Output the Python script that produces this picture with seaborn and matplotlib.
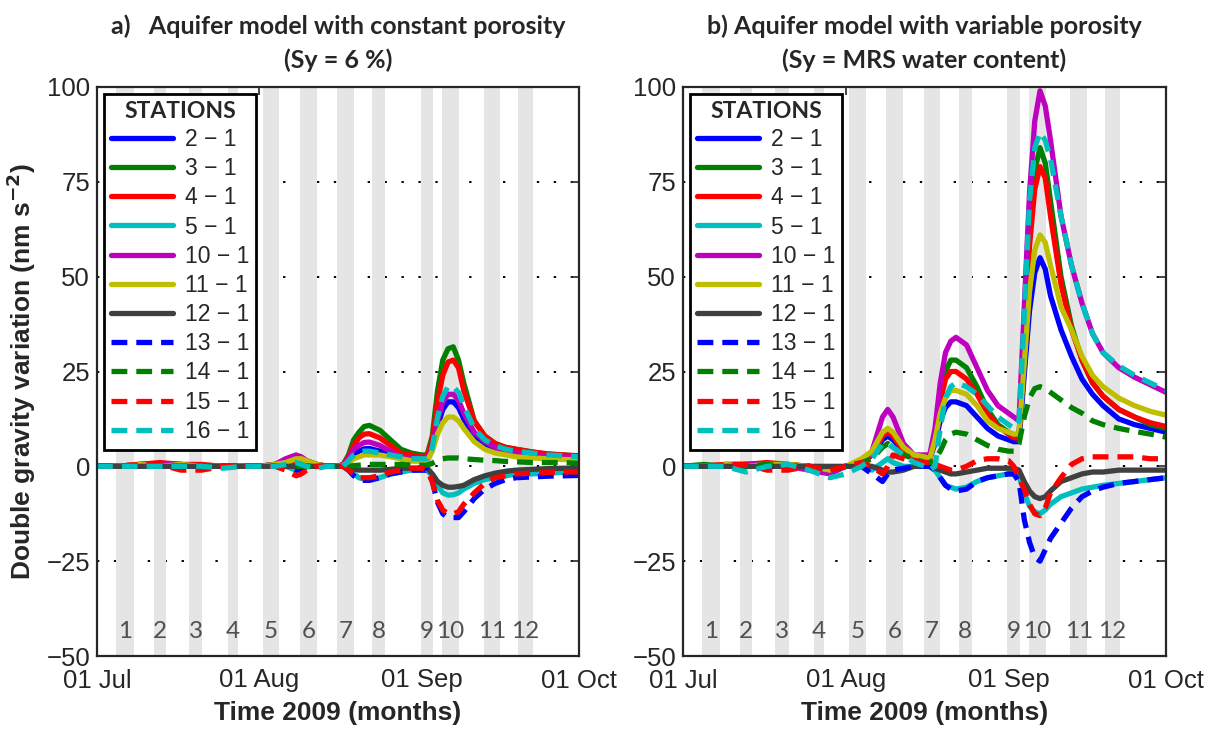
import numpy as np
import pandas as pd
import matplotlib
matplotlib.use("Agg")
import matplotlib.pyplot as plt
import seaborn as sns
from matplotlib.lines import Line2D

# ---------------- data ----------------
days = [0, 4, 8, 12, 16, 20, 24, 28, 31, 34, 36, 38, 39, 40, 42, 44, 46, 47, 48, 49,
        50, 51, 52, 54, 56, 58, 60, 62, 63, 64, 65, 66, 67, 68, 69, 70, 72, 74, 76, 78,
        80, 83, 86, 89, 92]

stations = ["2 − 1", "3 − 1", "4 − 1", "5 − 1", "10 − 1", "11 − 1", "12 − 1",
            "13 − 1", "14 − 1", "15 − 1", "16 − 1"]

# panel a) constant porosity
a_s2 = [0, 0, 0, 0.5, 0.5, 0, 0, 0, 0, 0.5, 1, 1.5, 1, 0.5, 0, 0, 0, 0.3, 1.5, 3,
        4, 4.6, 4.7, 4, 3, 2, 1.5, 1.5, 1.5, 4.5, 10.5, 15, 17, 17, 15.5, 12.5, 8, 5.5, 4.5, 3.5,
        3, 2.7, 2.5, 2.3, 2]
a_s3 = [0, 0, 0.5, 0.5, 0.5, 0, 0, 0, 0, 0.5, 1, 2, 2, 1.5, 0.5, 0, 0, 0.5, 3, 7,
        9, 10.5, 10.8, 9.5, 7, 4.5, 3.5, 3, 3, 8, 20, 28, 31, 31.5, 28, 22, 12, 8, 6, 5,
        4.5, 3.8, 3.2, 3, 2.6]
a_s4 = [0, 0, 0.5, 1, 0.5, 0.5, 0, 0, 0, 0.5, 1, 1.5, 1.5, 1, 0.5, 0, 0, 0.5, 2.5, 5.5,
        7.5, 8.5, 8.6, 7.5, 5.5, 3.5, 3, 2.5, 2.5, 7, 17, 24, 27.5, 28, 26, 20, 12, 8, 6, 5,
        4.5, 3.8, 3.3, 3, 2.8]
a_s5 = [0, 0, 0, 0, 0, 0, 0, 0, 0, 0, 0, -1, -1, 0, 0, 0, 0, 0, -1, -2,
        -3, -3.4, -3.4, -3, -2, -1.5, -1, -1, -1, -2.5, -5, -7, -7.6, -7.5, -7, -6, -4.5, -3.5, -3, -2.5,
        -2, -2, -1.8, -1.6, -1.5]
a_s10 = [0, 0, 0.5, 0.5, 0.5, 0, 0, 0, 0, 0.5, 2, 3, 2.5, 1.5, 0.5, 0, 0, 0.5, 2, 4.5,
         5.5, 6.3, 6.4, 5.5, 4, 2.5, 2, 2, 2, 5, 12, 17, 19, 19, 17.5, 14, 9, 6.5, 5, 4,
         3.5, 3, 2.8, 2.5, 2.3]
a_s11 = [0, 0, 0.5, 0, 0.5, 0, 0, 0, 0, 0.5, 1, 2, 2, 1.5, 0.5, 0, 0, 0.3, 1, 2,
         2.5, 3, 3, 3, 2.5, 2, 1.5, 1.5, 1.5, 4, 8.5, 11.5, 13, 13, 12, 10, 6.5, 4.5, 3.5, 3,
         2.5, 2.2, 2, 1.8, 1.7]
a_s12 = [0, 0, 0, 0, 0, 0, 0, 0, 0, 0, 0, 0, 0, 0, 0, 0, 0, 0, -0.5, -0.8,
         -1, -1, -1, -1, -0.8, -0.5, -0.5, -0.5, -0.5, -2, -4, -5, -5.5, -5.5, -5.3, -5, -3.5, -2.5, -1.8, -1.3,
         -1, -0.8, -0.6, -0.5, -0.5]
a_s13 = [0, 0, 0, 0, 0, 0, 0, 0, 0, 0, 0, -1, -1, 0, 0, 0, 0, 0, -1, -2.5,
         -3.5, -3.7, -3.7, -3, -2, -1.5, -1, -1, -1, -4, -9.5, -12.5, -13.5, -13.5, -13.5, -12, -8.5, -6, -4.5, -3.5,
         -3, -2.8, -2.6, -2.5, -2.4]
a_s14 = [0, 0, 0, 0, 0, 0, 0, 0, 0, 0, 0, 0, 0, 0, 0, 0, 0, 0, 0, 0.2,
         0.3, 0.4, 0.5, 0.5, 0.5, 0.5, 0.3, 0.3, 0.3, 0.8, 1.5, 2, 2.2, 2.2, 2.2, 2, 1.8, 1.6, 1.5, 1.3,
         1.2, 1, 1, 1, 0.8]
a_s15 = [0, 0, 0.5, 0.5, -1, -1, 0, 0, 0, 0, -1, -2.5, -2, -1, 0, 0, 0, 0, -1, -2,
         -3, -3, -3, -2.5, -1.5, -1, -0.5, -0.5, -1, -4, -9, -11.5, -12.5, -12.5, -12, -10, -7, -4.5, -3, -2.5,
         -2, -1.8, -1.6, -1.5, -1.5]
a_s16 = [0, 0, 0, 0, 0, 0, -0.5, 0, 0, 0, 0.5, 1, 0.5, 0, -0.5, 0, 0, 0, 1.5, 3,
         3.8, 4, 4, 3.5, 3, 2.5, 2, 2, 2, 5, 13, 18.5, 21, 21, 19.5, 16, 10, 7, 5.5, 4.5,
         4, 3.5, 3, 2.8, 2.5]

# panel b) variable porosity
b_s2 = [0, 0, 0, 0.5, 0.5, 0, -0.5, -1, 0, 1, 3, 7, 8, 7, 4, 2, 2, 2, 6, 12,
        15.5, 17, 17, 16, 13, 10, 8, 7, 6.5, 6.5, 24, 41, 51, 55, 52, 45, 36, 29, 23, 19,
        16, 12.5, 11, 10, 9]
b_s3 = [0, 0.5, 0, 0.5, 0.5, 0.5, 0, -1, 0, 1, 3, 8, 9, 8, 4, 2, 2, 2, 8, 18,
        25, 28, 28, 26, 21, 15, 11, 9, 8, 8, 35, 62, 78, 84, 80, 70, 50, 37, 28, 22,
        18.5, 15, 13, 11, 10]
b_s4 = [0, 0, 0.5, 0.5, 1, 0.5, 0, -1, 0, 1, 3, 8, 9, 8, 4, 2, 2, 2, 8, 17,
        23, 25, 25, 23, 19, 14, 10.5, 8.5, 7.5, 7.5, 33, 58, 73, 79, 76, 66, 48, 36, 28, 22,
        18.5, 15, 13, 11.5, 10.5]
b_s5 = [0, 0, 0, 0, 0.5, 0, 0, -1, 0, 0, -1, 1, 2, 1, 0, 0, 0, 0, -1, -3,
        -5, -5.5, -6, -5.5, -4, -3, -2.5, -2, -2, -2.5, -7, -10.5, -12, -12.5, -11.5, -10, -8, -7, -6, -5.5,
        -5, -4.5, -4, -3.5, -3]
b_s10 = [0, 0, 0.5, 0.5, 0.5, 0, -1, -2, 0, 1, 4, 13, 15, 13, 6, 3, 3, 3, 10, 22,
         30, 33, 34, 32, 26, 20, 16, 14, 13, 12, 42, 72, 91, 99, 95, 86, 66, 53, 43, 35,
         30, 26, 23.5, 21.5, 19.5]
b_s11 = [0, 0, 0.5, 0, 0.5, 0.5, 0, -1, 0, 2, 4, 9, 10, 9, 5, 3, 2.5, 2, 7, 14,
         18, 20, 20, 19, 16, 12, 10, 9, 8.5, 8.5, 27, 46, 57, 61, 59, 53, 42, 36, 29, 24,
         21, 18, 16, 14.5, 13.5]
b_s12 = [0, 0, 0, 0, 0, 0, 0, 0, 0, 0, 0, -1, -1.5, -1.5, -1, 0, 0, 0, -0.5, -1,
         -1.5, -2, -2, -1.5, -1, -0.5, -0.5, -0.5, -0.5, -1, -4, -6.5, -8, -8.5, -8, -6.5, -4, -3, -2, -1.5,
         -1.5, -1, -1, -1, -1]
b_s13 = [0, 0, 0, 0, 0, 0, 0, -1, 0, 0, -2, -4, -2, -1, -0.5, 0, 0, 0, -1, -3,
         -5, -6, -6.5, -6, -4, -3, -2.5, -2, -2, -4, -14, -20, -24, -25, -22, -19, -15, -11, -8, -6.5,
         -5.5, -4.5, -4, -3.5, -3]
b_s14 = [0, 0, 0, 0, 0.5, 0, 0, -1, 0, 1, 2, 5, 6, 5, 3, 2, 1, 1, 2, 4,
         7, 8.5, 9, 8.5, 7, 5.5, 4.5, 4, 4, 6, 13, 18, 20.5, 21, 20.5, 19.5, 17.5, 15.5, 14, 12,
         11, 10, 9.2, 8.5, 7.7]
b_s15 = [0, 0, 0.5, 0.5, -1, -1, 0, -1, 0, 1, 0, -2, 0, 3, 2, 1, 1, 1, 0.5, 0,
         -0.5, -1, -1, 0, 1.5, 2, 2, 1.5, 0, -3, -6, -10, -12.5, -13, -11, -7, -3, 0.5, 2, 2.5,
         2.5, 2.5, 2.5, 2, 2]
b_s16 = [0, 0, 0, -1.5, 0, 0.5, -1, -3, -2, 0, 2, 6, 6, 5, 3, 1, 0, -1, 0, 10,
         18, 21, 22, 21, 19, 16, 13, 11, 10, 12, 40, 70, 84, 88, 86, 81, 66, 53, 43, 35,
         30, 26.5, 24, 22, 20]

# campaign bands (days since 01 Jul) and labels
band_start = [3.7, 10.8, 17.6, 25.0, 31.7, 38.7, 45.9, 52.5, 61.8, 65.9, 73.8, 80.4]
band_end = [7.0, 13.1, 20.1, 26.9, 34.8, 42.0, 49.0, 55.0, 64.1, 69.1, 77.0, 83.2]
band_labels = ["1", "2", "3", "4", "5", "6", "7", "8", "9", "10", "11", "12"]

month_ticks = [0, 31, 62, 92]
month_labels = ["01 Jul", "01 Aug", "01 Sep", "01 Oct"]
y_ticks = [-50, -25, 0, 25, 50, 75, 100]

panel_a = [a_s2, a_s3, a_s4, a_s5, a_s10, a_s11, a_s12, a_s13, a_s14, a_s15, a_s16]
panel_b = [b_s2, b_s3, b_s4, b_s5, b_s10, b_s11, b_s12, b_s13, b_s14, b_s15, b_s16]

# ---------------- style ----------------
colors = ["#0000ff", "#008000", "#ff0000", "#00bfbf", "#bf00bf", "#bfbf00", "#404040",
          "#0000ff", "#008000", "#ff0000", "#00bfbf"]
dash_pat = (3.0, 1.7)
dash_list = ["", "", "", "", "", "", "", dash_pat, dash_pat, dash_pat, dash_pat]
palette = dict(zip(stations, colors))
dash_map = dict(zip(stations, dash_list))
LW = 3.8

sns.set_style("white")
plt.rcParams["font.family"] = ["Liberation Sans", "DejaVu Sans"]
plt.rcParams["axes.unicode_minus"] = True

fig = plt.figure(figsize=(12.25, 7.29), dpi=100)
ax_a = fig.add_axes([97 / 1225, 1 - 656 / 729, 482 / 1225, 569 / 729])
ax_b = fig.add_axes([683 / 1225, 1 - 656 / 729, 483 / 1225, 569 / 729])


def draw(ax, series, title):
    rows = []
    for st, vals in zip(stations, series):
        for d, v in zip(days, vals):
            rows.append({"day": d, "value": v, "station": st})
    df = pd.DataFrame(rows)

    ax.set_axisbelow(True)
    ax.yaxis.grid(True, color="black", linestyle=(0, (1.2, 7.5)), linewidth=1.4)
    ax.xaxis.grid(False)

    for s, e, lab in zip(band_start, band_end, band_labels):
        ax.axvspan(s, e, color="#e5e5e5", lw=0, zorder=1)
        ax.text((s + e) / 2, -43.5, lab, ha="center", va="center", fontsize=17.5,
                color="#505050", family="Lato", zorder=1.5)

    sns.lineplot(data=df, x="day", y="value", hue="station", style="station",
                 hue_order=stations, style_order=stations, palette=palette,
                 dashes=dash_map, estimator=None, sort=False, linewidth=LW,
                 legend=False, ax=ax, zorder=3)

    ax.set_xlim(0, 92)
    ax.set_ylim(-50, 100)
    ax.set_xticks(month_ticks)
    ax.set_xticklabels(month_labels)
    ax.set_yticks(y_ticks)
    ax.set_yticklabels([str(t).replace("-", "−") for t in y_ticks])
    ax.tick_params(axis="both", direction="in", length=6, width=1.2, labelsize=18.5,
                   top=True, right=True, colors="#262626")
    ax.tick_params(axis="x", pad=9)
    ax.tick_params(axis="y", pad=5)
    for sp in ax.spines.values():
        sp.set_color("#262626")
        sp.set_linewidth(1.6)
        sp.set_zorder(5)
    ax.set_xlabel("Time 2009 (months)", fontsize=19, fontweight="bold", labelpad=6)
    ax.set_ylabel("")
    ax.set_title(title, fontsize=18, fontweight="bold", family="Lato",
                 pad=13.5, linespacing=1.55)

    handles = [Line2D([0], [0], color=c, lw=LW,
                      linestyle="-" if d == "" else (0, d))
               for c, d in zip(colors, dash_list)]
    leg = ax.legend(handles, stations, loc="upper left", title="STATIONS",
                    fontsize=16.5,
                    title_fontproperties={"family": "Lato", "weight": "bold", "size": 16.5},
                    handlelength=2.7, handletextpad=0.55, labelspacing=0.27,
                    borderpad=0.3, borderaxespad=0.3, frameon=True, fancybox=False,
                    framealpha=1, edgecolor="black")
    leg.get_frame().set_linewidth(2.0)
    leg.set_zorder(10)
    for t in leg.get_texts():
        t.set_color("#262626")


draw(ax_a, panel_a, "a)   Aquifer model with constant porosity\n(Sy = 6 %)")
draw(ax_b, panel_b, "b) Aquifer model with variable porosity\n(Sy = MRS water content)")
ax_a.set_ylabel("Double gravity variation (nm s$^{\\mathbf{-2}}$)", fontsize=19,
                fontweight="bold", labelpad=6)

fig.savefig("out.png", dpi=100)
